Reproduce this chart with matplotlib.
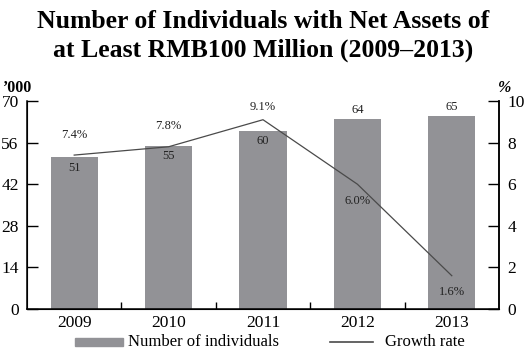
import matplotlib.pyplot as plt
import numpy as np

years = ['2009', '2010', '2011', '2012', '2013']
individuals = [51, 55, 60, 64, 65]          # '000
growth = [7.4, 7.8, 9.1, 6.0, 1.6]          # %
bar_labels = ['51', '55', '60', '64', '65']
growth_labels = ['7.4%', '7.8%', '9.1%', '6.0%', '1.6%']

plt.rcParams['font.family'] = 'Liberation Serif'

fig = plt.figure(figsize=(5.27, 3.5), dpi=100)
ax = fig.add_axes([27/527, 1-309/350, 472/527, 208/350])
x = np.arange(len(years))

bar_col = '#929296'
line_col = '#4a4a4a'

ax.bar(x, individuals, width=0.5, color=bar_col, zorder=2)
ax.set_xlim(-0.5, 4.5)
ax.set_ylim(0, 70)
ax.set_yticks([0, 14, 28, 42, 56, 70])
ax.set_xticks(x)
ax.set_xticklabels(years)
ax.set_xticks(np.arange(0.5, 4.5, 1), minor=True)
ax.tick_params(axis='x', which='major', length=0, labelsize=12.5, pad=4)
ax.tick_params(axis='x', which='minor', direction='in', length=5, width=1)
ax.tick_params(axis='y', direction='in', length=8, width=1, labelsize=12.5, pad=6)
ax.spines['top'].set_visible(False)
for s in ['left', 'bottom', 'right']:
    ax.spines[s].set_linewidth(1.1)

# bar value labels
for i, (v, lab) in enumerate(zip(individuals, bar_labels)):
    if v < 62:
        ax.text(i, v - 1.5, lab, ha='center', va='top', fontsize=9, color='#222222')
    else:
        ax.text(i, v + 0.8, lab, ha='center', va='bottom', fontsize=9, color='#222222')

ax2 = ax.twinx()
ax2.plot(x, growth, color=line_col, lw=0.9, zorder=3)
ax2.set_ylim(0, 10)
ax2.set_yticks([0, 2, 4, 6, 8, 10])
ax2.tick_params(axis='y', direction='in', length=8, width=1, labelsize=12.5, pad=6)
ax2.spines['top'].set_visible(False)
ax2.spines['right'].set_linewidth(1.1)

offs = [0.7, 0.7, 0.3, -0.5, -0.5]
for i, (g, lab, o) in enumerate(zip(growth, growth_labels, offs)):
    ax2.text(i, g + o, lab, ha='center', va='bottom' if o > 0 else 'top',
             fontsize=9, color='#222222')

fig.text(0.5, 1-22/350, 'Number of Individuals with Net Assets of',
         ha='center', va='center', fontsize=18.5, fontweight='bold')
fig.text(0.5, 1-50/350, 'at Least RMB100 Million (2009\u20132013)',
         ha='center', va='center', fontsize=18.5, fontweight='bold')
fig.text(2/527, 1-88/350, '\u2019000', ha='left', va='center', fontsize=11.5, fontweight='bold')
fig.text(498/527, 1-88/350, '%', ha='left', va='center', fontsize=11.5, fontweight='bold',
         style='italic')

# legend
from matplotlib.patches import Rectangle
from matplotlib.lines import Line2D
fig.patches.append(Rectangle((75/527, 1-346/350), 48/527, 8/350,
                             transform=fig.transFigure, color=bar_col))
fig.text(128/527, 1-342/350, 'Number of individuals', ha='left', va='center', fontsize=12)
fig.lines.append(Line2D([330/527, 373/527], [1-342/350, 1-342/350],
                        transform=fig.transFigure, color=line_col, lw=1.2))
fig.text(385/527, 1-342/350, 'Growth rate', ha='left', va='center', fontsize=12)

fig.savefig('out.png', dpi=100)
